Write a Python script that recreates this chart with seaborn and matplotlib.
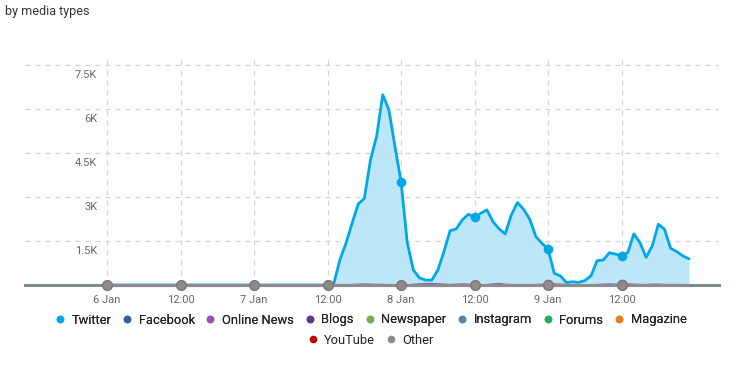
import matplotlib
matplotlib.use("Agg")
import matplotlib.pyplot as plt
import matplotlib.transforms as mtransforms
from matplotlib.lines import Line2D
import pandas as pd
import seaborn as sns

# hourly data, 6 Jan 00:00 -> 9 Jan 23:00
hours = pd.date_range("2020-01-06 00:00", periods=96, freq="h")

twitter = ([0] * 24 + [0] * 13 +
           [40, 850, 1420, 2100, 2760, 2950, 4260, 5060, 6480, 5970, 4720] +
           [3500, 1450, 510, 240, 170, 160, 510, 1140, 1850, 1910, 2220, 2410,
            2310, 2440, 2560, 2160, 1910, 1740, 2390, 2810, 2580, 2240, 1650, 1420] +
           [1220, 400, 310, 80, 110, 90, 150, 310, 830, 850, 1100, 1050,
            1000, 1100, 1740, 1440, 940, 1330, 2070, 1900, 1250, 1140, 990, 890])
online_news = ([0] * 40 +
               [10, 20, 30, 20, 10, 0, 0, 0, 0, 0, 10, 20, 30, 40, 30, 20,
                10, 20, 30, 20, 10, 0, 10, 30, 40, 20, 10, 0, 0, 0, 10, 20] +
               [20, 30, 20, 10, 0, 0, 0, 0, 10, 20, 30, 20, 20, 30, 20, 10,
                10, 20, 20, 10, 10, 10, 10, 0])
blogs = ([0] * 44 + [10, 10, 0, 0, 0, 0, 10, 20, 20, 10, 10, 10] + [0] * 40)
facebook = [0] * 96
newspaper = [0] * 96
instagram = [0] * 96
forums = [0] * 96
magazine = [0] * 96
youtube = [0] * 96
other = [0] * 96

media_names = ["Twitter", "Facebook", "Online News", "Blogs", "Newspaper",
               "Instagram", "Forums", "Magazine", "YouTube", "Other"]
media_colors = ["#00a8e8", "#3c5a9a", "#9b4fb8", "#5b3a8e", "#7aab55",
                "#5b84aa", "#27ae60", "#e67e22", "#c00000", "#8c8c8c"]
series = [twitter, facebook, online_news, blogs, newspaper,
          instagram, forums, magazine, youtube, other]

tick_times = pd.date_range("2020-01-06 00:00", periods=8, freq="12h")
tick_labels = ["6 Jan", "12:00", "7 Jan", "12:00", "8 Jan", "12:00", "9 Jan", "12:00"]
y_ticks = [1500, 3000, 4500, 6000, 7500]
y_labels = ["1.5K", "3K", "4.5K", "6K", "7.5K"]

sns.set_style("white")
plt.rcParams["font.family"] = ["Roboto", "DejaVu Sans"]

fig = plt.figure(figsize=(7.4, 3.69), dpi=100)
ax = fig.add_axes([25 / 740, 84 / 369, 694 / 740, 226 / 369])

# twitter area
ax.fill_between(hours, twitter, 0, color="#bde7f8", linewidth=0, zorder=1)

for name, vals, col in zip(media_names, series, media_colors):
    if name == "Twitter":
        lw, mew = 2, 0
    elif name == "Other":
        lw, mew = 2.2, 1
    else:
        lw, mew = 1.2, 0
    sns.lineplot(x=hours, y=vals, color=col, linewidth=lw, marker="o",
                 markevery=12, markersize=7, markeredgewidth=mew,
                 markeredgecolor="#86746f", ax=ax, zorder=3, clip_on=False)

ax.set_xlim(pd.Timestamp("2020-01-05 10:36"), pd.Timestamp("2020-01-10 03:54"))
ax.set_ylim(0, 7700)
ax.set_xticks(tick_times)
ax.set_xticklabels(tick_labels)
ax.set_yticks(y_ticks)
ax.set_yticklabels(y_labels)
ax.set_xlabel("")
ax.set_ylabel("")

ax.grid(True, linestyle=(0, (4, 4)), color="#d4d4d4", linewidth=0.9)
ax.set_axisbelow(True)
for s in ["top", "right", "left"]:
    ax.spines[s].set_visible(False)
ax.spines["bottom"].set_color("#7d8b8a")
ax.spines["bottom"].set_linewidth(2.2)
ax.spines["bottom"].set_zorder(2)

ax.tick_params(axis="x", length=0, pad=7, labelsize=8, labelcolor="#666666")
ax.tick_params(axis="y", length=0, pad=-52, labelsize=8, labelcolor="#666666")
shift = mtransforms.ScaledTranslation(0, -9 / 100, fig.dpi_scale_trans)
for lab in ax.get_yticklabels():
    lab.set_transform(lab.get_transform() + shift)

fig.text(5 / 740, 1 - 12 / 369, "by media types", fontsize=9, color="#333333", va="center")

handles = [Line2D([], [], linestyle="none", marker="o", markersize=5.5,
                  markerfacecolor=c, markeredgewidth=0) for c in media_colors]
leg1 = fig.legend(handles[:8], media_names[:8], ncol=8, loc="center",
                  bbox_to_anchor=(0.5, 1 - 320 / 369), frameon=False, fontsize=9.3,
                  handlelength=1, handletextpad=0.4, columnspacing=0.72, borderaxespad=0,
                  labelcolor="#222222")
fig.add_artist(leg1)
fig.legend(handles[8:], media_names[8:], ncol=2, loc="center",
           bbox_to_anchor=(0.5, 1 - 340 / 369), frameon=False, fontsize=9.3,
           handlelength=1, handletextpad=0.4, columnspacing=0.72, borderaxespad=0,
           labelcolor="#222222")

fig.savefig("out.png", dpi=100)
